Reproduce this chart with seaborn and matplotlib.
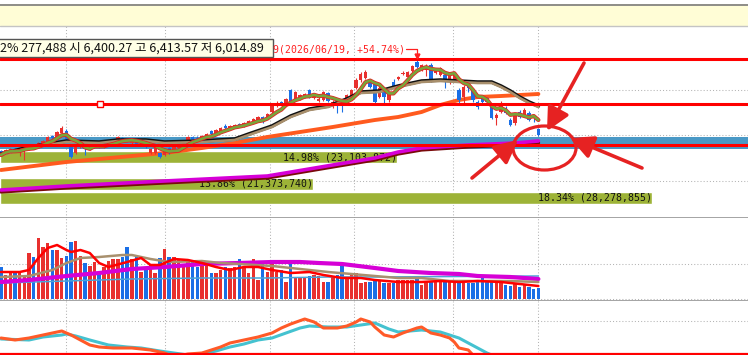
import matplotlib
matplotlib.use("Agg")
import matplotlib.pyplot as plt
import matplotlib.patheffects as pe
from matplotlib.patches import Rectangle, Ellipse
from matplotlib.lines import Line2D
import numpy as np
import pandas as pd
import seaborn as sns

# ---- price candles (daily) ----
opens = [6490, 6470, 6480, 6510, 6480, 6490, 6510, 6550, 6530, 6560,
         6590, 6640, 6630, 6670, 6690, 6530, 6470, 6530, 6540, 6510,
         6530, 6550, 6530, 6550, 6560, 6580, 6620, 6610, 6570, 6590,
         6550, 6580, 6470, 6470, 6470, 6450, 6520, 6490, 6520, 6540,
         6580, 6630, 6620, 6610, 6630, 6690, 6670, 6690, 6740, 6720,
         6730, 6760, 6740, 6760, 6780, 6800, 6830, 6820, 6880, 6940,
         6980, 6970, 7100, 7000, 7030, 7030, 7100, 7020, 6990, 7000,
         7070, 6960, 6980, 6970, 6980, 7040, 7120, 7200, 7220, 7170,
         7180, 7030, 7110, 7000, 7180, 7210, 7260, 7230, 7290, 7380,
         7300, 7300, 7350, 7270, 7250, 7250, 7180, 7210, 7100, 7030,
         7150, 7100, 6980, 7030, 7020, 6950, 6820, 6880, 6920, 6800,
         6770, 6880, 6850, 6870, 6830, 6710]
closes = [6450, 6500, 6510, 6490, 6500, 6520, 6540, 6530, 6570, 6590,
          6630, 6620, 6680, 6720, 6610, 6430, 6530, 6550, 6510, 6540,
          6550, 6530, 6560, 6570, 6590, 6630, 6590, 6590, 6590, 6560,
          6580, 6530, 6510, 6530, 6430, 6490, 6470, 6530, 6550, 6570,
          6630, 6610, 6610, 6640, 6660, 6660, 6700, 6720, 6720, 6740,
          6750, 6740, 6770, 6790, 6810, 6830, 6780, 6860, 6950, 6970,
          6960, 7010, 6970, 7080, 7050, 7060, 7030, 7040, 7010, 7080,
          6990, 6980, 6960, 6940, 7050, 7100, 7200, 7260, 7280, 7130,
          6980, 7120, 7030, 7070, 7130, 7230, 7270, 7280, 7340, 7330,
          7350, 7340, 7200, 7300, 7320, 7200, 7270, 7250, 7000, 7130,
          7120, 7000, 6930, 6980, 6980, 6820, 6850, 6970, 6870, 6750,
          6850, 6830, 6900, 6800, 6820, 6650]
highs = [6500, 6510, 6520, 6520, 6510, 6530, 6550, 6560, 6580, 6600,
         6640, 6650, 6690, 6740, 6710, 6540, 6540, 6560, 6550, 6550,
         6560, 6560, 6570, 6580, 6600, 6640, 6630, 6620, 6600, 6600,
         6590, 6590, 6520, 6540, 6480, 6500, 6530, 6540, 6560, 6580,
         6640, 6640, 6640, 6650, 6670, 6700, 6710, 6730, 6760, 6750,
         6760, 6770, 6780, 6800, 6820, 6840, 6840, 6870, 6960, 6990,
         6990, 7020, 7110, 7090, 7060, 7070, 7110, 7050, 7030, 7090,
         7080, 7000, 6990, 6990, 7060, 7110, 7220, 7280, 7300, 7200,
         7190, 7140, 7120, 7080, 7210, 7240, 7290, 7290, 7350, 7420,
         7360, 7360, 7370, 7310, 7330, 7270, 7280, 7260, 7120, 7150,
         7170, 7110, 7000, 7050, 7030, 6970, 6870, 6990, 6940, 6820,
         6870, 6900, 6920, 6890, 6840, 6720]
lows = [6440, 6460, 6470, 6480, 6440, 6400, 6500, 6520, 6520, 6550,
        6580, 6610, 6620, 6660, 6600, 6420, 6460, 6520, 6450, 6500,
        6520, 6520, 6520, 6540, 6550, 6570, 6580, 6580, 6560, 6550,
        6540, 6520, 6460, 6460, 6420, 6440, 6460, 6480, 6510, 6530,
        6570, 6600, 6600, 6600, 6620, 6650, 6660, 6680, 6710, 6710,
        6720, 6730, 6730, 6750, 6770, 6790, 6770, 6810, 6870, 6930,
        6950, 6960, 6960, 6990, 7000, 7020, 7020, 7010, 6980, 6990,
        6980, 6920, 6870, 6880, 6970, 7030, 7110, 7180, 7210, 7120,
        6960, 7020, 6970, 6980, 7120, 7200, 7250, 7220, 7280, 7320,
        7290, 7240, 7180, 7260, 7240, 7120, 7160, 7200, 6960, 6970,
        7080, 6980, 6910, 6960, 6960, 6810, 6750, 6870, 6860, 6740,
        6750, 6820, 6840, 6790, 6780, 6640]

# ---- moving averages (index, value) ----
ma20_i = [0, 6, 10, 14, 21, 25, 31, 35, 43, 50, 53, 58, 62, 66, 70, 74, 77, 81, 85, 90,
          94, 98, 102, 105, 107, 109, 111, 113, 115]
ma20 = [6450, 6520, 6550, 6580, 6570, 6590, 6590, 6570, 6580, 6600, 6650, 6730, 6830, 6900,
        6930, 7000, 7070, 7080, 7130, 7180, 7190, 7180, 7170, 7170, 7130, 7080, 7020, 6970, 6930]
ma60_i = [0, 14, 21, 35, 43, 50, 57, 64, 71, 80, 85, 90, 94, 98, 102, 107, 115]
ma60 = [6300, 6380, 6410, 6470, 6520, 6570, 6630, 6680, 6730, 6800, 6830, 6880, 6950, 7000,
        7030, 7040, 7060]
ma120_i = [0, 14, 35, 57, 71, 80, 85, 90, 100, 110, 115]
ma120 = [6100, 6140, 6190, 6240, 6350, 6420, 6480, 6520, 6550, 6570, 6590]

# horizontal reference lines / zones
ref_lines = [7410, 6960, 6550]
zone_lo, zone_hi = 6510, 6630
grid_prices = [7100, 6650, 6190]

# price-volume profile bars
profile_lo = [6370, 6100, 5960]
profile_hi = [6490, 6220, 6080]
profile_end = [84.7, 66.8, 139.3]
profile_labels = ["14.98% (23,103,872)", "13.86% (21,373,740)", "18.34% (28,278,855)"]

# ---- volume (thousand shares) ----
volume = [162, 120, 128, 128, 137, 120,
          228, 212, 303, 262, 278, 245, 245, 203, 215, 287,
          290, 215, 182, 165, 187, 128, 162, 190, 200, 198,
          208, 262, 200, 208, 137, 145, 170, 132, 203, 250,
          208, 208, 195, 162, 187, 187, 162, 178, 170, 128,
          128, 145, 162, 153, 162, 198, 153, 128, 200, 95,
          178, 137, 178, 137, 145, 87, 182, 103, 103, 112,
          115, 120, 115, 87, 87, 112, 120, 178, 103, 128,
          128, 82, 87, 87,
          95, 95, 78, 78, 78, 95, 95, 95, 95, 103, 70, 87, 87, 87, 87, 87, 87, 87,
          78, 78, 78, 78, 87, 112, 87, 87, 87, 78, 70, 65, 78, 62, 70, 62, 50, 57]
vma5_i = [0, 4, 6, 8, 10, 12, 14, 15, 17, 19, 21, 23, 27, 30, 32, 34, 37, 40, 43, 46, 49,
          52, 55, 58, 62, 66, 69, 73, 77, 80, 85, 90, 94, 98, 102, 107, 111, 115]
vma5 = [135, 135, 145, 205, 255, 270, 245, 235, 245, 230, 180, 160, 185, 205, 170, 170, 200,
        195, 180, 160, 145, 160, 160, 145, 130, 135, 120, 105, 105, 95, 85, 85, 90, 85, 90,
        85, 75, 65]
vma20_i = [0, 6, 11, 14, 17, 21, 26, 28, 32, 36, 43, 47, 51, 58, 62, 66, 70, 75, 80, 85, 90,
           96, 100, 105, 109, 115]
vma20 = [110, 115, 145, 180, 205, 210, 220, 220, 200, 185, 190, 180, 175, 165, 155, 145, 135,
         125, 115, 105, 105, 90, 90, 90, 90, 85]
vma60_i = [0, 6, 14, 21, 28, 35, 43, 51, 58, 64, 68, 73, 80, 85, 92, 98, 102, 109, 115]
vma60 = [85, 95, 115, 130, 150, 160, 175, 180, 185, 185, 180, 175, 155, 140, 130, 125, 115,
         110, 100]
vma120_i = [0, 14, 28, 43, 57, 70, 80, 94, 115]
vma120 = [80, 90, 100, 105, 105, 110, 110, 112, 115]

# ---- oscillator (two lines) ----
osc_a_i = [0, 3, 6, 8, 10, 12, 13, 15, 17, 19, 21, 24, 28, 32, 35, 37, 40, 43, 45, 47,
           49, 52, 55, 58, 60, 62, 65, 67, 69, 72, 74, 76, 77, 79, 80, 82, 84, 86, 89, 90,
           92, 94, 96, 97, 98, 100, 101, 102]
osc_a = [16, 14, 16, 18, 20, 22, 23, 19, 14, 9, 7, 6, 6, 4, 1, -3, 0, 1, 4, 7,
         11, 14, 17, 21, 26, 30, 35, 32, 26, 26, 28, 32, 35, 32, 27, 19, 17, 21, 26, 27,
         21, 19, 16, 12, 6, 4, -1, -5]
osc_b_i = [0, 6, 9, 13, 14, 16, 19, 23, 27, 30, 34, 37, 40, 44, 46, 49, 52, 55, 58, 61,
           64, 66, 70, 74, 77, 80, 83, 85, 90, 94, 96, 98, 100, 102, 104, 106]
osc_b = [15, 14, 17, 19, 20, 18, 14, 9, 7, 6, 3, 1, -1, 1, 3, 7, 10, 14, 16, 21,
         26, 28, 27, 27, 29, 31, 25, 22, 24, 22, 19, 16, 11, 6, 1, -3]

month_starts = [14, 35, 57.6, 75.5, 96.7, 115]

RED, BLUE = "#e8302e", "#1a6fe6"
GRID = "#b4b4b4"
MONO = "DejaVu Sans Mono"

sns.set_style("white")
plt.rcParams["font.family"] = ["Noto Sans CJK KR", "DejaVu Sans"]

W, H = 748, 355
fig = plt.figure(figsize=(W / 100, H / 100), dpi=100)
fig.patch.set_facecolor("white")


def band(y_top, y_bot):
    return [0, 1 - y_bot / H, 1, (y_bot - y_top) / H]


ax = fig.add_axes(band(26, 218.5))
axv = fig.add_axes(band(218.5, 300.5))
axo = fig.add_axes(band(300.5, 355))
xlim = (-0.214, 159.86)
for a in (ax, axv, axo):
    a.set_xlim(*xlim)
    a.set_xticks([])
    a.set_yticks([])
    for s in a.spines.values():
        s.set_visible(False)
    for m in month_starts:
        a.axvline(m, color=GRID, lw=0.75, ls=(0, (1, 2)), zorder=0.5)
for a in (ax, axv):
    a.spines["bottom"].set_visible(True)
    a.spines["bottom"].set_color("#8c8c8c")
    a.spines["bottom"].set_linewidth(1.1)

ax.set_ylim(5815, 7740)
axv.set_ylim(-7.5, 402.5)
axo.set_ylim(-1, 53.5)

idx = np.arange(len(closes))
o = np.array(opens)
c = np.array(closes)
colors = np.where(c >= o, RED, BLUE)

# ---------- price panel ----------
for g in grid_prices:
    ax.axhline(g, color=GRID, lw=0.75, ls=(0, (1, 2)), zorder=0.5)

for lo, hi, end, lab in zip(profile_lo, profile_hi, profile_end, profile_labels):
    ax.barh((lo + hi) / 2, end - xlim[0], left=xlim[0], height=hi - lo,
            color="#9db337", zorder=1)
    ax.text(end, (lo + hi) / 2, lab, ha="right", va="center", fontsize=7.1,
            family=MONO, color="#111111", zorder=1.5)

ax.axhspan(zone_lo, zone_hi, color="#4a99c6", zorder=2, lw=0)

sns.lineplot(x=ma120_i, y=ma120, ax=ax, color="#d600d6", lw=2.6, zorder=4,
             path_effects=[pe.SimpleLineShadow(offset=(0, -1.3), shadow_color="#7a0a0a", alpha=1),
                           pe.Normal()])
sns.lineplot(x=ma60_i, y=ma60, ax=ax, color="#ff5a1e", lw=2.8, zorder=4)

ax.vlines(idx, lows, highs, colors=colors, lw=0.8, zorder=5)
ax.bar(idx, np.maximum(np.abs(c - o), 10), bottom=np.minimum(o, c), width=0.72,
       color=colors, lw=0, antialiased=False, zorder=5.1)

sns.lineplot(x=ma20_i, y=ma20, ax=ax, color="#a88f6c", lw=1.9, zorder=6,
             path_effects=[pe.Stroke(linewidth=2.6, foreground="#111111", offset=(0, 0.7)),
                           pe.Normal()])
ma5 = pd.Series(closes).rolling(5, min_periods=1).mean()
sns.lineplot(x=idx, y=ma5, ax=ax, color="#79a43a", lw=1.9, zorder=7,
             path_effects=[pe.Stroke(linewidth=3.0, foreground="#e52020"), pe.Normal()])

for y in ref_lines:
    ax.axhline(y, color="#ff0000", lw=2.2, zorder=8)
ax.plot([21.2], [ref_lines[1]], marker="s", ms=4.3, mfc="white", mec="#ff0000", mew=1,
        zorder=9)

# peak marker bracket
peak_i = int(np.argmax(highs))
peak_hi = highs[peak_i]
ax.plot([peak_i - 2.3, peak_i, peak_i], [peak_hi + 90, peak_hi + 90, peak_hi + 18],
        color="#ff2020", lw=0.9, zorder=9)
ax.plot([peak_i], [peak_hi + 18], marker="v", ms=3.5, color="#ff2020", zorder=9)

# ---------- volume panel ----------
for g in [175, 0]:
    axv.axhline(g, color=GRID, lw=0.75, ls=(0, (1, 2)), zorder=0.5)
axv.bar(idx, volume, width=0.74, color=colors, lw=0, antialiased=False, zorder=2)
sns.lineplot(x=vma120_i, y=vma120, ax=axv, color="#4aa3d8", lw=1.1, zorder=3)
sns.lineplot(x=vma60_i, y=vma60, ax=axv, color="#d600d6", lw=3.0, zorder=3)
sns.lineplot(x=vma20_i, y=vma20, ax=axv, color="#a8906e", lw=1.8, zorder=3)
sns.lineplot(x=vma5_i, y=vma5, ax=axv, color="#ff0000", lw=1.8, zorder=4)

# ---------- oscillator panel ----------
axo.axhline(33, color=GRID, lw=0.75, ls=(0, (1, 2)), zorder=0.5)
sns.lineplot(x=osc_b_i, y=osc_b, ax=axo, color="#44c2d0", lw=2.2, zorder=2)
sns.lineplot(x=osc_a_i, y=osc_a, ax=axo, color="#ff5a28", lw=2.2, zorder=3)
axo.axhline(0, color="#ff0000", lw=1.6, zorder=5)

# ---------- header strip and tooltip ----------
fig.add_artist(Rectangle((0, 1 - 25.5 / H), 1, 21 / H, transform=fig.transFigure,
                         facecolor="#fffdd6", edgecolor="none"))
fig.add_artist(Line2D([0, 1], [1 - 4.5 / H] * 2, transform=fig.transFigure,
                      color="#7a7a7a", lw=1.2))
fig.add_artist(Line2D([0, 1], [1 - 25.5 / H] * 2, transform=fig.transFigure,
                      color="#c4c4c4", lw=1.0))
fig.add_artist(Rectangle((-2 / W, 1 - 57 / H), 275 / W, 18 / H, transform=fig.transFigure,
                         facecolor="#ffffe6", edgecolor="#555555", lw=1.0, zorder=3))
fig.text(0.5 / W, 1 - 48 / H, "2% 277,488 시 6,400.27 고 6,413.57 저 6,014.89",
         fontsize=9, va="center", ha="left", color="#111111", zorder=4)
fig.text(273 / W, 1 - 50 / H, "9(2026/06/19, +54.74%)", fontsize=7.1, family=MONO,
         va="center", ha="left", color="#ff2020")

# ---------- hand-drawn red markup ----------
axa = fig.add_axes([0, 0, 1, 1])
axa.set_xlim(0, W)
axa.set_ylim(H, 0)
axa.axis("off")
axa.patch.set_alpha(0)
axa.set_zorder(10)
MARK = "#e62222"
for tail, tip in [((584, 63), (547, 131)), ((472, 178), (518, 140)), ((642, 168), (570, 138))]:
    axa.annotate("", xy=tip, xytext=tail,
                 arrowprops=dict(arrowstyle="-|>,head_length=0.7,head_width=0.35",
                                 color=MARK, lw=2.6, shrinkA=0, shrinkB=0,
                                 mutation_scale=20))
axa.add_patch(Ellipse((544.5, 148), 63, 44, fill=False, edgecolor=MARK, lw=2.3))

fig.savefig("out.png", dpi=100)
